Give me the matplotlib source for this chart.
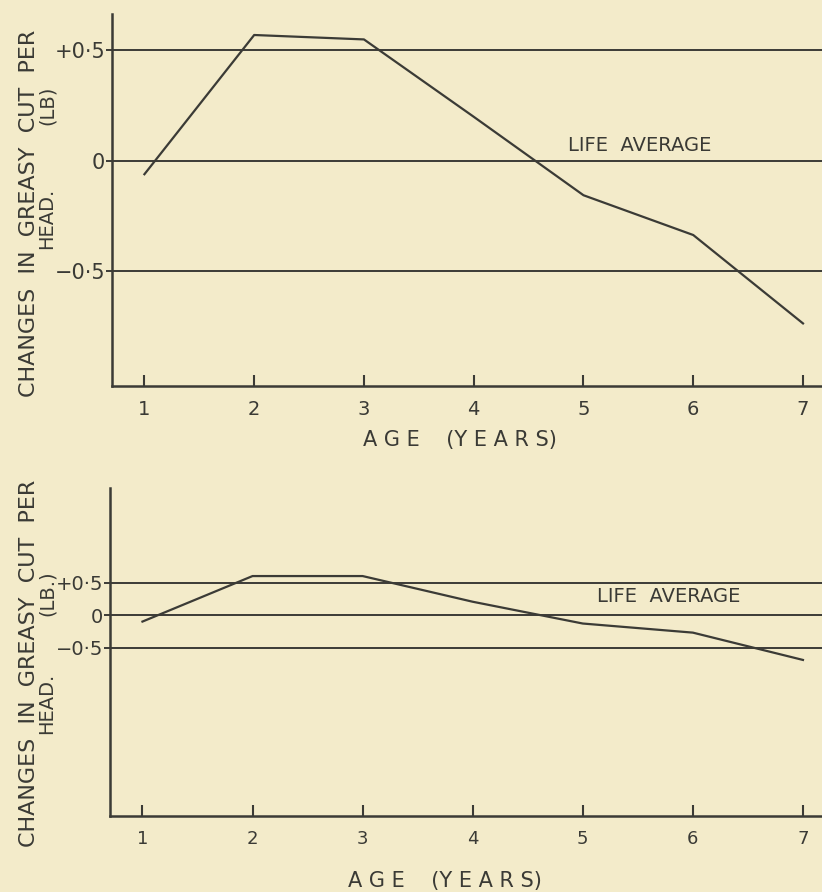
"""
Changes in greasy cut per head by age, relative to the life average.
Two panels: same curve on an expanded (top) and compressed (bottom) scale.
"""

import matplotlib
matplotlib.use("Agg")
import matplotlib.pyplot as plt

# ── Data ─────────────────────────────────────────────────────────────
ages = [1, 2, 3, 4, 5, 6, 7]
change_top = [-0.06, 0.57, 0.55, 0.20, -0.155, -0.335, -0.735]
change_bottom = [-0.10, 0.60, 0.60, 0.205, -0.13, -0.27, -0.69]

grid_levels = [0.5, 0.0, -0.5]
ytick_labels = ["+0·5", "0", "−0·5"]
xtick_labels = ["1", "2", "3", "4", "5", "6", "7"]

# ── Style ────────────────────────────────────────────────────────────
paper = "#f3ebca"
ink = "#3b3b36"
text_ink = "#3a3a35"

plt.rcParams.update({
    "font.family": "DejaVu Sans",
    "axes.linewidth": 1.8,
    "axes.edgecolor": ink,
    "axes.spines.top": False,
    "axes.spines.right": False,
})

fig = plt.figure(figsize=(8.22, 8.92), dpi=100, facecolor=paper)


def draw_panel(ax, values, ylim, tick_fs, label_pos):
    ax.set_facecolor(paper)
    for lev in grid_levels:
        ax.axhline(lev, color=ink, linewidth=1.4, zorder=1)
    ax.plot(ages, values, color=ink, linewidth=1.6, zorder=2)

    ax.set_xlim(0.705, 7.173)
    ax.set_ylim(*ylim)

    ax.set_xticks(ages)
    ax.set_xticklabels(xtick_labels, fontsize=tick_fs, color=text_ink)
    ax.tick_params(axis="x", direction="in", length=8, width=1.5,
                   color=ink, pad=10)
    ax.set_yticks(grid_levels)
    ax.set_yticklabels(ytick_labels, fontsize=tick_fs + 1, color=text_ink)
    ax.tick_params(axis="y", direction="out", length=4, width=1.4,
                   color=ink, pad=1)

    ax.text(label_pos[0], label_pos[1], "LIFE  AVERAGE", fontsize=14,
            color=text_ink, ha="left", va="center")


# ── Top panel ────────────────────────────────────────────────────────
ax1 = fig.add_axes([0.1363, 0.5673, 0.8637, 0.417])
draw_panel(ax1, change_top, (-1.018, 0.665), 14, (4.86, 0.068))

# ── Bottom panel ─────────────────────────────────────────────────────
ax2 = fig.add_axes([0.1338, 0.0852, 0.8662, 0.3677])
draw_panel(ax2, change_bottom, (-3.09, 1.954), 13, (5.13, 0.29))

# ── Axis titles (placed in figure pixels) ────────────────────────────
W, H = 822, 892


def ftext(x, y, s, **kw):
    fig.text(x / W, 1 - y / H, s, color=text_ink, ha="center",
             va="center", **kw)


for y_main, y_head, y_lb, lb_txt, y_age, x_age in [
        (213, 218, 105, "(LB)", 440, 460),
        (663, 703, 593, "(LB.)", 881, 445)]:
    ftext(29, y_main, "CHANGES  IN  GREASY  CUT  PER", rotation=90,
          fontsize=16)
    ftext(47, y_head, "HEAD.", rotation=90, fontsize=14)
    ftext(47, y_lb, lb_txt, rotation=90, fontsize=14)
    ftext(x_age, y_age, "A G E    (Y E A R S)", fontsize=15)

fig.savefig("out.png", dpi=100, facecolor=paper)
